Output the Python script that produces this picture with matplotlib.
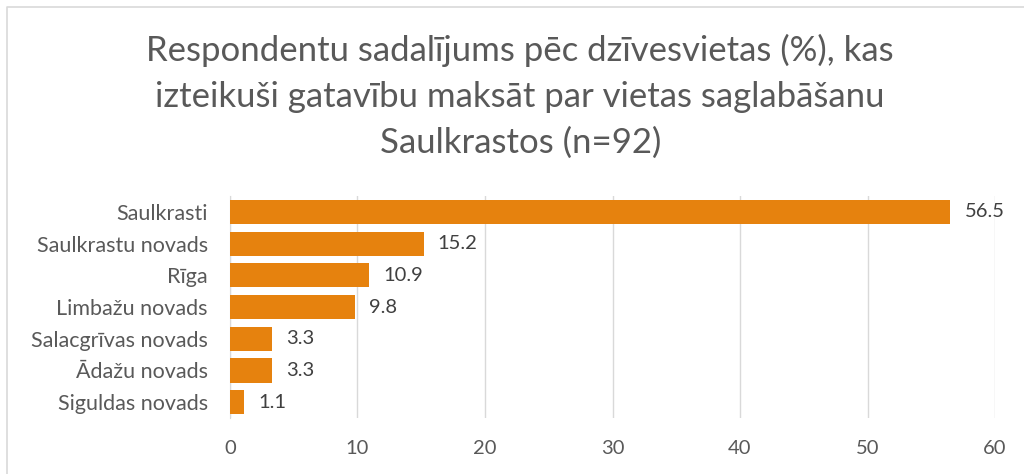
import matplotlib.pyplot as plt
from matplotlib.lines import Line2D

# data
categories = ['Saulkrasti', 'Saulkrastu novads', 'Rīga', 'Limbažu novads',
              'Salacgrīvas novads', 'Ādažu novads', 'Siguldas novads']
values = [56.5, 15.2, 10.9, 9.8, 3.3, 3.3, 1.1]
x_ticks = [0, 10, 20, 30, 40, 50, 60]

TITLE = ('Respondentu sadalījums pēc dzīvesvietas (%), kas\n'
         'izteikuši gatavību maksāt par vietas saglabāšanu\n'
         'Saulkrastos (n=92)')

plt.rcParams['font.family'] = ['Lato', 'DejaVu Sans']

fig = plt.figure(figsize=(10.24, 4.74), dpi=100)
ax = fig.add_axes([0.2246, 0.118, 0.7471, 0.4685])

ypos = list(range(len(categories)))
ax.barh(ypos, values, height=0.76, color='#E6820E', zorder=3)
for y, v in zip(ypos, values):
    ax.text(v + 1.1, y, f'{v:.1f}', va='center', ha='left',
            fontsize=14.5, color='#404040')

ax.set_yticks(ypos)
ax.set_yticklabels(categories, fontsize=15.5, color='#595959')
ax.set_ylim(len(categories) - 0.5, -0.5)
ax.set_xlim(0, 60)
ax.set_xticks(x_ticks)
ax.set_xticklabels([str(t) for t in x_ticks], fontsize=14.5, color='#595959')
ax.tick_params(axis='both', length=0)
ax.tick_params(axis='y', pad=16)
ax.tick_params(axis='x', pad=16)
ax.grid(axis='x', color='#D9D9D9', linewidth=1, zorder=0)
for s in ['top', 'right', 'bottom']:
    ax.spines[s].set_visible(False)
ax.spines['left'].set_color('#D9D9D9')

fig.text(0.508, 0.797, TITLE, ha='center', va='center', fontsize=25,
         color='#595959', linespacing=1.54)

# chart-area frame (only left and top edges fall inside the crop)
fig.lines.append(Line2D([0.0073, 0.0073, 1.0], [0.0, 0.986, 0.986],
                        transform=fig.transFigure, color='#D9D9D9', linewidth=1.2))

fig.savefig('out.png', dpi=100)
